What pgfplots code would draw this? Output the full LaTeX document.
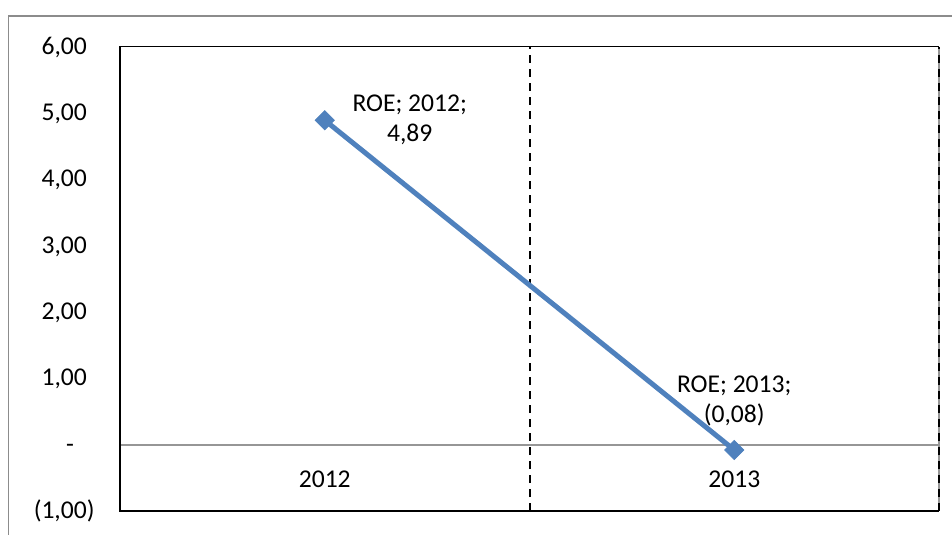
\documentclass[border=0pt]{standalone}
\usepackage{fontspec}
\setmainfont{Carlito}
\usepackage{pgfplots}
\pgfplotsset{compat=1.18}
\definecolor{roeblue}{HTML}{4F81BD}
\definecolor{framegray}{HTML}{8C8C8C}
\definecolor{zerogray}{HTML}{969696}
\begin{document}
\begin{tikzpicture}[x=1bp,y=1bp,font=\fontsize{12.8bp}{15bp}\selectfont]
\path[use as bounding box] (0,0) rectangle (476,267);
% outer chart frame
\draw[framegray, line width=0.9bp] (4.2,-5) -- (4.2,259) -- (480,259);
\begin{axis}[
  at={(60bp,11.5bp)}, anchor=south west,
  scale only axis, width=409.5bp, height=232.2bp,
  xmin=0.5, xmax=2.5, ymin=-1, ymax=6,
  axis line style={draw=none},
  xtick={1,2}, xticklabels={2012,2013},
  ytick={-1,0,1,2,3,4,5,6},
  yticklabels={{(1,00)},{-\phantom{0)}},{1,00\phantom{)}},{2,00\phantom{)}},{3,00\phantom{)}},{4,00\phantom{)}},{5,00\phantom{)}},{6,00\phantom{)}}},
  tick style={draw=none},
  major tick length=0pt,
  xticklabel style={anchor=center, yshift=15.75bp, inner sep=0pt},
  yticklabel style={anchor=east, xshift=-12.5bp, inner sep=0pt},
  /pgf/number format/assume math mode=true,
  clip=false,
]
% zero line and category separator
\draw[zerogray, line width=0.9bp] (axis cs:0.5,0) -- (axis cs:2.5,0);
\draw[black, line width=1bp, dash pattern=on 4bp off 3bp] (axis cs:1.5,-1) -- (axis cs:1.5,6);
% plot area border: right edge dashed
\draw[zerogray, line width=0.8bp] (rel axis cs:1,0) -- (rel axis cs:1,1);
\draw[black, line width=1bp, dash pattern=on 4bp off 3bp] (rel axis cs:1,0) -- (rel axis cs:1,1);
\draw[black, line width=0.7bp] (rel axis cs:1,1) -- (rel axis cs:0,1) -- (rel axis cs:0,0) -- (rel axis cs:1,0);
% ROE series
\addplot[roeblue, line width=2.5bp, mark=square*, mark size=3.4bp,
  mark options={solid, rotate=45, fill=roeblue, draw=roeblue, line width=0.4bp}]
  coordinates {(1,4.89) (2,-0.08)};
% data labels
\addplot[draw=none, point meta=y,
  nodes near coords={ROE; 2012;\\4,89},
  nodes near coords style={anchor=center, xshift=42.5bp, yshift=0bp, align=center, inner sep=0pt, text=black}]
  coordinates {(1,4.89)};
\addplot[draw=none, point meta=y,
  nodes near coords={ROE; 2013;\\(0,08)},
  nodes near coords style={anchor=center, yshift=24.5bp, align=center, inner sep=0pt, text=black}]
  coordinates {(2,-0.08)};
\end{axis}
\end{tikzpicture}
\end{document}
